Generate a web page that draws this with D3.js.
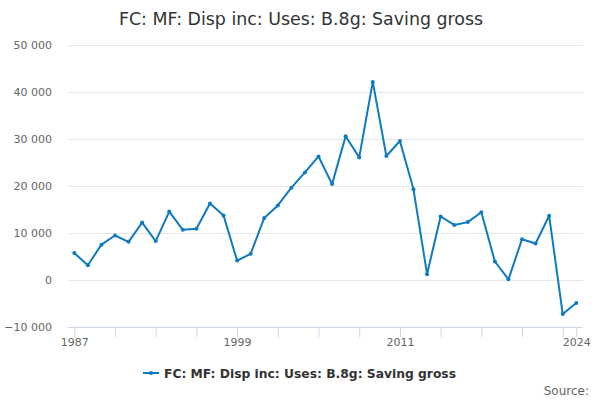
<!DOCTYPE html>
<html><head><meta charset="utf-8">
<script src="https://cdn.jsdelivr.net/npm/d3@7"></script>
<style>body{margin:0;background:#fff}svg{font-family:"DejaVu Sans",sans-serif}</style>
</head><body><svg id="c" width="600" height="400"></svg>
<script>
const years = d3.range(1987, 2025);
const values = [5700,3100,7500,9450,8100,12200,8250,14550,10650,10900,16250,13700,4100,5550,13200,15850,19650,22900,26300,20400,30600,26100,42200,26400,29600,19300,1200,13500,11700,12300,14400,3900,100,8650,7750,13650,-7300,-4950];
const yTicks = [-10000,0,10000,20000,30000,40000,50000];
const xLabelYears = [1987,1999,2011,2024];
const seriesName = "FC: MF: Disp inc: Uses: B.8g: Saving gross";
const title = "FC: MF: Disp inc: Uses: B.8g: Saving gross";

const svg = d3.select("#c");
const x = d3.scaleLinear().domain([1987,2024]).range([74.3,576.3]);
const y = d3.scaleLinear().domain([-10000,50000]).range([326.7,45.3]);
const fmt = v => d3.format(",")(v).replace(/,/g," ");

svg.append("text").attr("x",301).attr("y",24.5).attr("text-anchor","middle")
  .attr("font-size",17.4).attr("fill","#333").text(title);

// grid
svg.append("g").selectAll("line").data(yTicks.filter(v=>v!==-10000)).join("line")
  .attr("x1",68).attr("x2",583).attr("y1",d=>Math.round(y(d))+0.5).attr("y2",d=>Math.round(y(d))+0.5)
  .attr("stroke","#e6e6e6").attr("stroke-width",1);
svg.append("g").selectAll("text").data(yTicks).join("text")
  .attr("x",52).attr("y",d=>y(d)+4).attr("text-anchor","end")
  .attr("font-size",11).attr("fill","#666").text(d=>fmt(d));

// x axis
const tickYears = d3.range(1987,2024,3).concat([2024]);
const xAxis = d3.axisBottom(x).tickValues(tickYears).tickSize(10).tickFormat(d=>xLabelYears.includes(d)?String(d):"");
const gx = svg.append("g").attr("transform",`translate(0,${Math.round(y(-10000))})`).call(xAxis);
gx.select(".domain").attr("d","M68,0.5H583").attr("stroke","#ccd6eb");
gx.selectAll(".tick line").attr("stroke","#ccd6eb");
gx.selectAll(".tick text").attr("font-size",11).attr("fill","#666").attr("font-family","DejaVu Sans").attr("dy","0.5em");

const color = "#0e7ac0";
const line = d3.line().x((d,i)=>x(years[i])).y(d=>y(d));
svg.append("path").datum(values).attr("d",line).attr("fill","none")
  .attr("stroke",color).attr("stroke-width",2).attr("stroke-linejoin","round");
svg.append("g").selectAll("circle").data(values).join("circle")
  .attr("cx",(d,i)=>x(years[i])).attr("cy",d=>y(d)).attr("r",2).attr("fill",color);

// legend
const lg = svg.append("g");
lg.append("line").attr("x1",143).attr("x2",159).attr("y1",373).attr("y2",373).attr("stroke",color).attr("stroke-width",2);
lg.append("circle").attr("cx",151).attr("cy",373).attr("r",2).attr("fill",color);
lg.append("text").attr("x",164).attr("y",377.5).attr("font-size",12.3).attr("font-weight","bold").attr("fill","#333").text(seriesName);

svg.append("text").attr("x",589).attr("y",395).attr("text-anchor","end").attr("font-size",12).attr("fill","#666").text("Source:");
</script></body></html>
